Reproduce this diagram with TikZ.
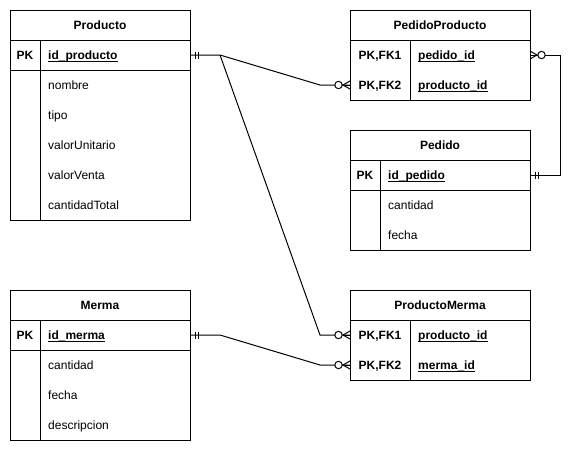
\documentclass[tikz,border=0pt]{standalone}
\usepackage{fontspec}
\setmainfont{Liberation Sans}
\newcommand{\fsz}{\fontsize{12}{14}\selectfont}
\newcommand{\ulk}[1]{\setbox0\hbox{#1}\rlap{\rule[-2.2pt]{\wd0}{1pt}}\box0}
\newcommand{\mOne}[2]{%
  \draw[conn] ([xshift=#2*5pt,yshift=3.5pt]#1) -- ([xshift=#2*5pt,yshift=-3.5pt]#1);
  \draw[conn] ([xshift=#2*8.5pt,yshift=3.5pt]#1) -- ([xshift=#2*8.5pt,yshift=-3.5pt]#1);}
\newcommand{\zMany}[2]{%
  \draw[conn] ([yshift=4pt]#1) -- ([xshift=#2*7pt]#1) -- ([yshift=-4pt]#1);
  \draw[conn] (#1) -- ([xshift=#2*7pt]#1);
  \draw[conn, fill=white] ([xshift=#2*11.5pt]#1) circle[radius=3.7pt];}
\begin{document}
\begin{tikzpicture}[x=1pt,y=-1pt,
  font=\fsz,
  frame/.style={draw, line width=1pt, minimum width=180pt, inner sep=0pt, outer sep=0pt,
    text height=8.6pt, text depth=0pt, font=\fsz\bfseries},
  row/.style={minimum width=180pt, minimum height=30pt, inner sep=0pt, outer sep=0pt},
  keyt/.style={inner sep=0pt, text height=8.6pt, text depth=0pt, font=\fsz\bfseries},
  fld/.style={anchor=west, inner sep=0pt, text height=8.6pt, text depth=0pt},
  fldk/.style={fld, font=\fsz\bfseries},
  tl/.style={line width=1pt},
  conn/.style={line width=1pt, line join=miter}]
\useasboundingbox (0,0) rectangle (580,451);

% ---------- Producto ----------
\node[frame, minimum height=30pt] (prodH) at (100,25) {Producto};
\node[frame, minimum height=30pt] (prodPK) at (100,55) {};
\node[frame, minimum height=150pt] (prodB) at (100,145) {};
\draw[tl] (40,40) -- (40,220);
\node[keyt] (prodK1) at (25,55) {PK};
\node[fldk] (prodF1) at (48,55) {\ulk{id\_producto}};
\node[fld] (prodF2) at (48,85) {nombre};
\node[fld] (prodF3) at (48,115) {tipo};
\node[fld] (prodF4) at (48,145) {valorUnitario};
\node[fld] (prodF5) at (48,175) {valorVenta};
\node[fld] (prodF6) at (48,205) {cantidadTotal};

% ---------- PedidoProducto ----------
\node[frame, minimum height=30pt] (ppH) at (440,25) {PedidoProducto};
\node[frame, minimum height=60pt] (ppB) at (440,70) {};
\node[row] (ppR1) at (440,55) {};
\node[row] (ppR2) at (440,85) {};
\draw[tl] (410,40) -- (410,100);
\node[keyt] (ppK1) at (380,55) {PK,FK1};
\node[keyt] (ppK2) at (380,85) {PK,FK2};
\node[fldk] (ppF1) at (418,55) {\ulk{pedido\_id}};
\node[fldk] (ppF2) at (418,85) {\ulk{producto\_id}};

% ---------- Pedido ----------
\node[frame, minimum height=30pt] (pedH) at (440,145) {Pedido};
\node[frame, minimum height=30pt] (pedPK) at (440,175) {};
\node[frame, minimum height=60pt] (pedB) at (440,220) {};
\draw[tl] (380,160) -- (380,250);
\node[keyt] (pedK1) at (365,175) {PK};
\node[fldk] (pedF1) at (388,175) {\ulk{id\_pedido}};
\node[fld] (pedF2) at (388,205) {cantidad};
\node[fld] (pedF3) at (388,235) {fecha};

% ---------- Merma ----------
\node[frame, minimum height=30pt] (merH) at (100,305) {Merma};
\node[frame, minimum height=30pt] (merPK) at (100,335) {};
\node[frame, minimum height=90pt] (merB) at (100,395) {};
\draw[tl] (40,320) -- (40,440);
\node[keyt] (merK1) at (25,335) {PK};
\node[fldk] (merF1) at (48,335) {\ulk{id\_merma}};
\node[fld] (merF2) at (48,365) {cantidad};
\node[fld] (merF3) at (48,395) {fecha};
\node[fld] (merF4) at (48,425) {descripcion};

% ---------- ProductoMerma ----------
\node[frame, minimum height=30pt] (pmH) at (440,305) {ProductoMerma};
\node[frame, minimum height=60pt] (pmB) at (440,350) {};
\node[row] (pmR1) at (440,335) {};
\node[row] (pmR2) at (440,365) {};
\draw[tl] (410,320) -- (410,380);
\node[keyt] (pmK1) at (380,335) {PK,FK1};
\node[keyt] (pmK2) at (380,365) {PK,FK2};
\node[fldk] (pmF1) at (418,335) {\ulk{producto\_id}};
\node[fldk] (pmF2) at (418,365) {\ulk{merma\_id}};

% ---------- connectors ----------
\draw[conn] (prodPK.east) -- ++(30,0) coordinate (pj) -- ([xshift=-30pt]ppR2.west) -- (ppR2.west);
\draw[conn] (pj) -- ([xshift=-30pt]pmR1.west) -- (pmR1.west);
\draw[conn] (ppR1.east) -- ++(30,0) |- (pedPK.east);
\draw[conn] (merPK.east) -- ++(30,0) -- ([xshift=-30pt]pmR2.west) -- (pmR2.west);

\mOne{prodPK.east}{1}
\mOne{merPK.east}{1}
\mOne{pedPK.east}{1}
\zMany{ppR2.west}{-1}
\zMany{pmR1.west}{-1}
\zMany{pmR2.west}{-1}
\zMany{ppR1.east}{1}
\end{tikzpicture}
\end{document}
